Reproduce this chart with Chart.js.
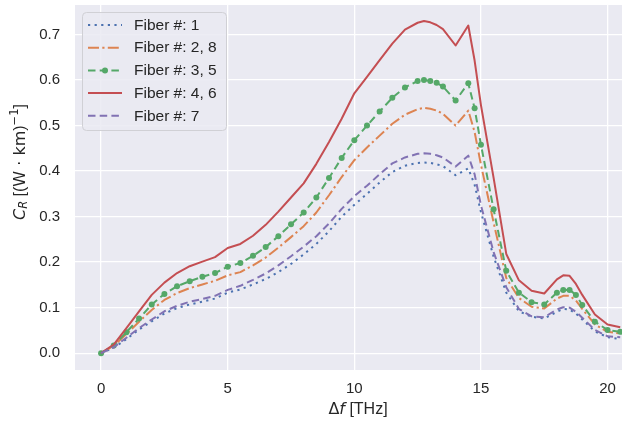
<!DOCTYPE html>
<html><head><meta charset="utf-8">
<script src="https://cdn.jsdelivr.net/npm/chart.js@4/dist/chart.umd.min.js"></script>
<style>html,body{margin:0;padding:0;background:#fff;} #wrap{width:633px;height:426px;position:relative;}</style>
</head><body><div id="wrap"><canvas id="c"></canvas></div>
<script>
const freqTHz = [0,0.5,1,1.5,2,2.5,3,3.5,4,4.5,5,5.5,6,6.5,7,7.5,8,8.5,9,9.5,10,10.5,11,11.5,12,12.5,12.75,13,13.25,13.5,14,14.5,14.75,15,15.5,16,16.5,17,17.5,18,18.25,18.5,18.75,19,19.5,20,20.5];
const fiber1  = [0,0.012,0.031,0.052,0.070,0.087,0.099,0.107,0.113,0.120,0.133,0.140,0.151,0.163,0.178,0.196,0.217,0.240,0.268,0.300,0.326,0.350,0.375,0.398,0.412,0.418,0.419,0.418,0.415,0.411,0.391,0.406,0.370,0.310,0.212,0.133,0.092,0.080,0.076,0.091,0.097,0.096,0.087,0.074,0.048,0.035,0.031];
const fiber2_8 = [0,0.016,0.042,0.069,0.095,0.117,0.132,0.143,0.151,0.159,0.171,0.178,0.193,0.210,0.232,0.255,0.279,0.309,0.347,0.387,0.424,0.452,0.478,0.504,0.524,0.536,0.539,0.537,0.533,0.526,0.500,0.533,0.486,0.414,0.287,0.165,0.121,0.102,0.098,0.120,0.126,0.126,0.116,0.097,0.063,0.047,0.043];
const fiber3_5 = [0,0.017,0.046,0.076,0.107,0.130,0.147,0.158,0.168,0.176,0.190,0.198,0.214,0.233,0.257,0.283,0.309,0.342,0.385,0.429,0.468,0.500,0.531,0.561,0.584,0.598,0.600,0.598,0.594,0.586,0.555,0.593,0.538,0.458,0.316,0.181,0.133,0.112,0.107,0.133,0.139,0.139,0.128,0.106,0.069,0.051,0.047];
const fiber4_6 = [0,0.019,0.055,0.092,0.128,0.155,0.176,0.191,0.201,0.211,0.231,0.240,0.258,0.282,0.311,0.342,0.373,0.416,0.464,0.515,0.571,0.607,0.644,0.680,0.711,0.726,0.730,0.727,0.721,0.712,0.676,0.720,0.643,0.545,0.385,0.218,0.160,0.137,0.131,0.162,0.171,0.170,0.152,0.128,0.085,0.063,0.057];
const fiber7  = [0,0.013,0.034,0.055,0.074,0.092,0.104,0.113,0.119,0.126,0.139,0.148,0.161,0.175,0.193,0.213,0.234,0.257,0.285,0.317,0.345,0.368,0.393,0.417,0.430,0.438,0.439,0.438,0.435,0.430,0.410,0.434,0.393,0.325,0.222,0.145,0.097,0.081,0.079,0.096,0.101,0.100,0.091,0.078,0.051,0.037,0.035];
const seriesLabels = ['Fiber #: 1','Fiber #: 2, 8','Fiber #: 3, 5','Fiber #: 4, 6','Fiber #: 7'];
const xTickValues = [0,5,10,15,20];
const yTickValues = [0,0.1,0.2,0.3,0.4,0.5,0.6,0.7];

const TXT = '#262626';
const SANS = '"Liberation Sans", Arial, sans-serif';
const MATH = '"DejaVu Sans", sans-serif';

function pts(ys){ return freqTHz.map((x,i)=>({x:x,y:ys[i]})); }

const styles = [
  {color:'#4C72B0', dash:[2.2,4.4], r:0, order:5},
  {color:'#DD8452', dash:[11,3.3,2.2,3.3], r:0, order:4},
  {color:'#55A868', dash:[7.5,4.2], r:3, order:3},
  {color:'#C44E52', dash:[], r:0, order:2},
  {color:'#8172B3', dash:[7.5,4.2], r:0, order:1}
];
const seriesData = [fiber1, fiber2_8, fiber3_5, fiber4_6, fiber7];

const datasets = seriesData.map((d,i)=>({
  label: seriesLabels[i],
  data: pts(d),
  borderColor: styles[i].color,
  backgroundColor: styles[i].color,
  borderWidth: 2,
  borderDash: styles[i].dash,
  borderCapStyle: 'butt',
  borderJoinStyle: 'round',
  pointRadius: styles[i].r,
  pointHoverRadius: styles[i].r,
  pointBorderWidth: 0,
  pointBackgroundColor: styles[i].color,
  tension: 0,
  fill: false,
  order: styles[i].order
}));

const bgPlugin = {
  id:'bg',
  beforeDraw(chart){
    const {ctx, chartArea:a} = chart;
    ctx.save();
    ctx.fillStyle = '#EAEAF2';
    ctx.fillRect(a.left, a.top, a.right-a.left, a.bottom-a.top);
    ctx.restore();
  }
};

function drawRuns(ctx, runs, cx, cy){
  let total = 0;
  runs.forEach(r=>{ ctx.font = r.font; r.w = ctx.measureText(r.t).width; total += r.w; });
  let x = cx - total/2;
  runs.forEach(r=>{ ctx.font = r.font; ctx.fillText(r.t, x, cy + (r.dy||0)); x += r.w; });
}

const titlePlugin = {
  id:'titles',
  afterDraw(chart){
    const ctx = chart.ctx;
    ctx.save();
    ctx.fillStyle = TXT;
    ctx.textBaseline = 'middle';
    ctx.textAlign = 'left';
    drawRuns(ctx, [
      {t:'\u0394', font:'16px '+MATH},
      {t:'f', font:'italic 16px '+MATH},
      {t:' [THz]', font:'16px '+SANS}
    ], 358, 410);
    ctx.translate(21, 162);
    ctx.rotate(-Math.PI/2);
    drawRuns(ctx, [
      {t:'C', font:'italic 16px '+MATH},
      {t:'R', font:'italic 11.5px '+MATH, dy:3.5},
      {t:' [(', font:'16px '+SANS},
      {t:'W', font:'16px '+MATH},
      {t:' \u00B7 ', font:'16px '+MATH},
      {t:'km', font:'16px '+MATH},
      {t:')', font:'16px '+SANS},
      {t:'\u22121', font:'11.5px '+MATH, dy:-6},
      {t:']', font:'16px '+SANS}
    ], 0, 0);
    ctx.restore();
  }
};

const legendPlugin = {
  id:'mplLegend',
  afterDraw(chart){
    const ctx = chart.ctx;
    const x0 = 82.5, y0 = 12.5, w = 144, h = 118;
    ctx.save();
    ctx.beginPath();
    ctx.roundRect(x0, y0, w, h, 4);
    ctx.fillStyle = 'rgba(234,234,242,0.85)';
    ctx.fill();
    ctx.strokeStyle = '#d0d0d5';
    ctx.lineWidth = 1;
    ctx.stroke();
    chart.data.datasets.forEach((ds,i)=>{
      const cy = 25 + i*22.7;
      ctx.setLineDash(ds.borderDash || []);
      ctx.strokeStyle = ds.borderColor;
      ctx.lineWidth = ds.borderWidth;
      ctx.lineCap = 'butt';
      ctx.beginPath(); ctx.moveTo(88, cy); ctx.lineTo(122, cy); ctx.stroke();
      ctx.setLineDash([]);
      if (ds.pointRadius > 0){
        ctx.fillStyle = ds.borderColor;
        ctx.beginPath(); ctx.arc(105, cy, ds.pointRadius, 0, Math.PI*2); ctx.fill();
      }
      ctx.fillStyle = TXT;
      ctx.font = '15.5px '+SANS;
      ctx.textBaseline = 'middle';
      ctx.textAlign = 'left';
      ctx.fillText(ds.label, 134, cy + 0.5);
    });
    ctx.restore();
  }
};

new Chart(document.getElementById('c'), {
  type:'line',
  data:{datasets: datasets},
  options:{
    responsive:true,
    maintainAspectRatio:false,
    animation:false,
    devicePixelRatio:1,
    layout:{padding:{top:5,right:11,left:0,bottom:0}},
    plugins:{legend:{display:false}, tooltip:{enabled:false}},
    scales:{
      x:{
        type:'linear', min:-1.03, max:20.57,
        afterBuildTicks(s){ s.ticks = xTickValues.map(v=>({value:v})); },
        afterFit(s){ s.height = 56; s.paddingLeft = 0; s.paddingRight = 0; },
        border:{display:false},
        grid:{color:'#ffffff', lineWidth:1.3, drawTicks:false},
        ticks:{color:TXT, font:{family:SANS, size:15}, padding:10, maxRotation:0, callback:(v)=>String(v)}
      },
      y:{
        type:'linear', min:-0.037, max:0.765,
        afterBuildTicks(s){ s.ticks = yTickValues.map(v=>({value:v})); },
        afterFit(s){ s.width = 75; s.paddingTop = 0; s.paddingBottom = 0; },
        border:{display:false},
        grid:{color:'#ffffff', lineWidth:1.3, drawTicks:false},
        ticks:{color:TXT, font:{family:SANS, size:15}, padding:15, callback:(v)=>Number(v).toFixed(1)}
      }
    }
  },
  plugins:[bgPlugin, titlePlugin, legendPlugin]
});
</script>
</body></html>
